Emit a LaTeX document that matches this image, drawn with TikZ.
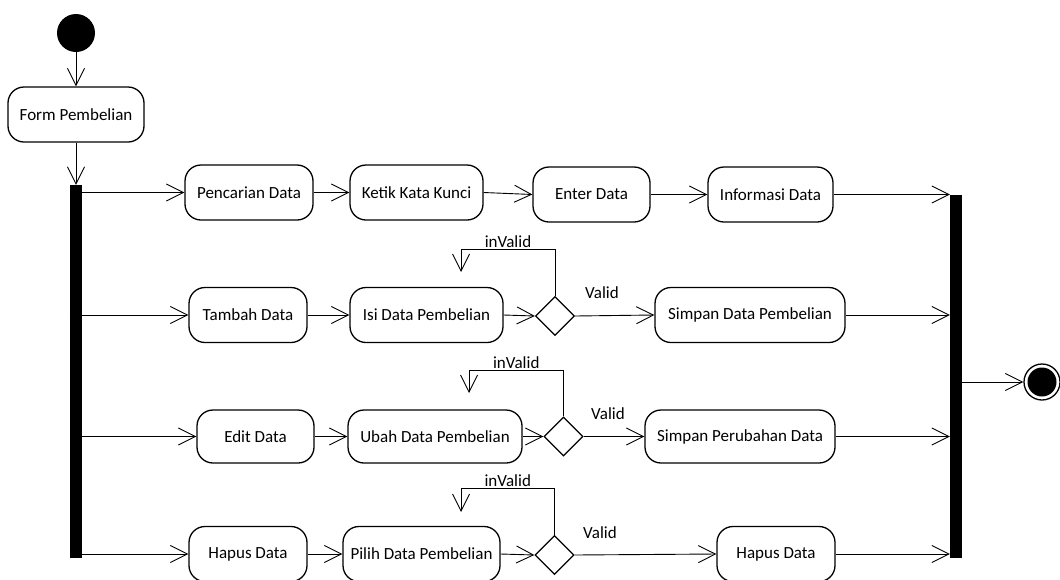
\documentclass[tikz,border=0pt]{standalone}
\usepackage{fontspec}
\setmainfont{Carlito}
\usetikzlibrary{arrows.meta,shapes.geometric}
\begin{document}
\begin{tikzpicture}[x=1pt,y=-1pt,
    act/.style={draw, rounded corners=16pt, line width=1.3pt, minimum height=55pt, inner sep=0pt, font=\fontsize{17}{20}\selectfont},
    bar/.style={fill=black, inner sep=0pt, minimum width=12pt},
    choice/.style={draw, diamond, line width=1.3pt, minimum size=39pt, inner sep=0pt},
    lbl/.style={font=\fontsize{17}{20}\selectfont},
    flow/.style={line width=0.9pt, -{Straight Barb[length=17pt,width=17pt]}}]
        \useasboundingbox (0,0) rectangle (1060,579);

        % Start, form and fork
        \node[circle, fill=black, minimum size=38pt, inner sep=0pt] (start) at (76,33) {};
        \node[act, minimum width=136pt] (form) at (76,114.5) {Form Pembelian};
        \node[bar, minimum height=373pt] (fork) at (76,371.5) {};
        \draw[flow] (start.south) -- (form.north);
        \draw[flow] (form.south) -- (fork.north);

        % Row 1: cari
        \node[act, minimum width=128pt] (cari) at (249,192.5) {Pencarian Data};
        \node[act, minimum width=133pt] (ketik) at (416.5,192.5) {Ketik Kata Kunci};
        \node[act, minimum width=117pt] (enter) at (591.5,194.5) {Enter Data};
        \node[act, minimum width=125pt] (info) at (770.5,194.5) {Informasi Data};

        % Row 2: tambah
        \node[act, minimum width=118pt] (tambah) at (248,315) {Tambah Data};
        \node[act, minimum width=153pt] (isi) at (426.5,315) {Isi Data Pembelian};
        \node[choice] (dec1) at (555,316) {};
        \node[act, minimum width=190pt] (simpan) at (750,315) {Simpan Data Pembelian};

        % Row 3: ubah
        \node[act, minimum width=117pt, minimum height=53pt] (edit) at (255.5,436.5) {Edit Data};
        \node[act, minimum width=174pt, minimum height=53pt] (ubah) at (435,436.5) {Ubah Data Pembelian};
        \node[choice] (dec2) at (563.5,436.5) {};
        \node[act, minimum width=190pt, minimum height=53pt] (simpanubah) at (740,436.5) {Simpan Perubahan Data};

        % Row 4: hapus
        \node[act, minimum width=118pt] (hapus) at (248,554) {Hapus Data};
        \node[act, minimum width=157pt] (pilih) at (421.5,554) {Pilih Data Pembelian};
        \node[choice] (dec3) at (554.5,555) {};
        \node[act, minimum width=118pt] (hapusakhir) at (776,554) {Hapus Data};

        % Join and end
        \node[bar, minimum height=363pt] (join) at (956,376.5) {};
        \node[circle, draw, line width=1.3pt, minimum size=36pt, inner sep=0pt] (stop) at (1042,382) {};
        \fill (stop.center) circle (14.5pt);
        \draw[flow] (join.east |- stop.west) -- (stop.west);

        % Fork to rows
        \draw[flow] (fork.east |- cari.west) -- (cari.west);
        \draw[flow] (fork.west |- tambah.west) -- (tambah.west);
        \draw[flow] (fork.east |- edit.west) -- (edit.west);
        \draw[flow] (fork.east |- hapus.west) -- (hapus.west);

        % Row flows
        \draw[flow] (cari.east) -- (ketik.west);
        \draw[flow] (ketik.east) -- (enter.west);
        \draw[flow] (enter.east) -- (info.west);
        \draw[flow] (tambah.east) -- (isi.west);
        \draw[flow] (isi.east) -- (dec1.west);
        \draw[flow] (dec1.east) -- (simpan.west);
        \draw[flow] (edit.east) -- (ubah.west);
        \draw[flow] (ubah.east) -- (dec2.west);
        \draw[flow] (dec2.east) -- (simpanubah.west);
        \draw[flow] (hapus.east) -- (pilih.west);
        \draw[flow] (pilih.east) -- (dec3.west);
        \draw[flow] (dec3.east) -- (hapusakhir.west);

        % Valid labels
        \node[lbl] (valid1) at (602,293) {Valid};
        \node[lbl] (valid2) at (608,414) {Valid};
        \node[lbl] (valid3) at (600,533) {Valid};

        % inValid loops
        \coordinate (loop1) at (461,249);
        \coordinate (loop1end) at (461,272);
        \draw[flow] (dec1.north) |- (loop1) node[lbl, pos=0.75, above=-2pt] {inValid} -- (loop1end);
        \coordinate (loop2) at (469,370);
        \coordinate (loop2end) at (469,393);
        \draw[flow] (dec2.north) |- (loop2) node[lbl, pos=0.75, above=-2pt] {inValid} -- (loop2end);
        \coordinate (loop3) at (461,488);
        \coordinate (loop3end) at (461,512);
        \draw[flow] (dec3.north) |- (loop3) node[lbl, pos=0.75, above=-2pt] {inValid} -- (loop3end);

        % Rows to join
        \draw[flow] (info.east) -- (info.east -| join.west);
        \draw[flow] (simpan.east) -- (simpan.east -| join.west);
        \draw[flow] (simpanubah.east) -- (simpanubah.east -| join.west);
        \draw[flow] (hapusakhir.east) -- (hapusakhir.east -| join.west);
\end{tikzpicture}
\end{document}
